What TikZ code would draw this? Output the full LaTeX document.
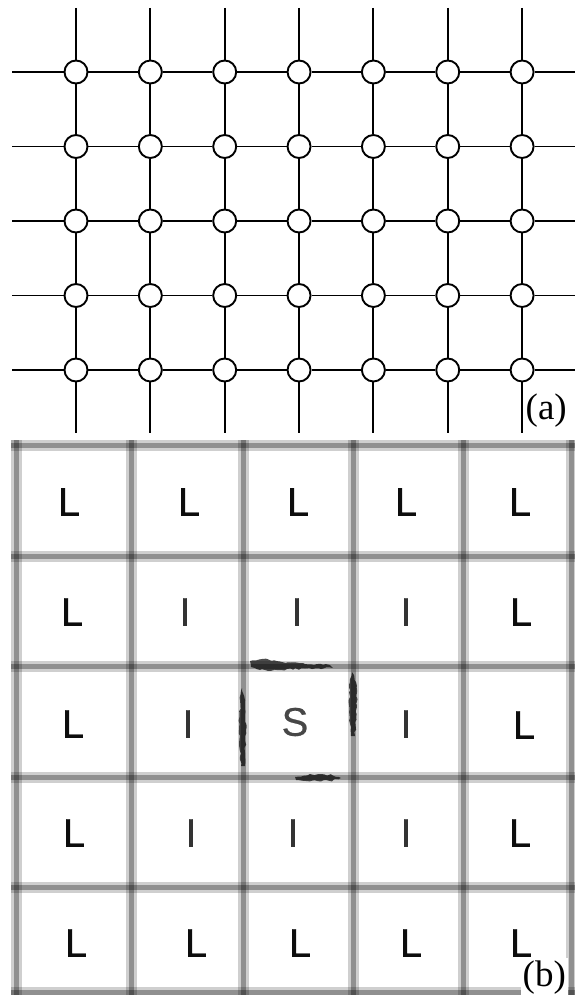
\documentclass[tikz,border=0pt]{standalone}
\usepackage{fontspec}
\usetikzlibrary{decorations.pathmorphing}
\setmainfont{Liberation Serif}
\newfontfamily\cellfont[FakeBold=0.6]{Liberation Sans}
\begin{document}
\begin{tikzpicture}[x=1pt,y=-1pt,
  site/.style={circle,draw=black,fill=white,line width=1.9pt,minimum size=23pt,inner sep=0pt},
  bond/.style={line width=1.9pt,black},
  bandouter/.style={line width=11pt,black,draw opacity=0.19},
  bandcore/.style={line width=5pt,black,draw opacity=0.3},
  cellL/.style={inner sep=0pt,font=\cellfont\fontsize{40}{40}\selectfont,text=black!95},
  cellI/.style={inner sep=0pt,font=\cellfont\fontsize{40}{40}\selectfont,text=black!80},
  cellS/.style={inner sep=0pt,font=\cellfont\fontsize{40}{40}\selectfont,text=black!72},
  smudge/.style={fill=black,fill opacity=0.7,draw=none,decorate,
    decoration={random steps,segment length=3pt,amplitude=0.9pt}},
  tag/.style={inner sep=2pt,fill=white,font=\fontsize{37}{37}\selectfont,anchor=base west}]
\useasboundingbox (0,0) rectangle (575,995);
\pgfmathsetseed{7}

% ---------- (a) square lattice of sites ----------
\foreach \i in {1,...,5} {
  \foreach \j in {1,...,7} {
    \pgfmathsetmacro{\px}{76+74.35*(\j-1)}
    \pgfmathsetmacro{\py}{72+74.5*(\i-1)}
    \node[site] (n-\i-\j) at (\px,\py) {};
  }
}
% free ends of the bonds
\foreach \i in {1,...,5} {
  \pgfmathsetmacro{\py}{72+74.5*(\i-1)}
  \coordinate (w-\i) at (12,\py);
  \coordinate (e-\i) at (575,\py);
}
\foreach \j in {1,...,7} {
  \pgfmathsetmacro{\px}{76+74.35*(\j-1)}
  \coordinate (t-\j) at (\px,8);
  \coordinate (b-\j) at (\px,433);
}
% horizontal bonds
\foreach \i in {1,...,5} {
  \draw[bond] (w-\i) -- (n-\i-1);
  \draw[bond] (n-\i-7) -- (e-\i);
  \foreach \j [count=\k from 2] in {1,...,6} {
    \draw[bond] (n-\i-\j) -- (n-\i-\k);
  }
}
% vertical bonds
\foreach \j in {1,...,7} {
  \draw[bond] (t-\j) -- (n-1-\j);
  \draw[bond] (n-5-\j) -- (b-\j);
  \foreach \i [count=\k from 2] in {1,...,4} {
    \draw[bond] (n-\i-\j) -- (n-\k-\j);
  }
}
\node[tag] (lab-a) at (523.5,419) {(a)};

% ---------- (b) 5x5 cell grid ----------
\foreach \gx in {16,131,243,353,463,571} {
  \draw[bandouter] (\gx,440) -- (\gx,995);
  \draw[bandcore] (\gx,440) -- (\gx,995);
}
\foreach \gy in {445,556,666,777,887,992} {
  \draw[bandouter] (11,\gy) -- (575,\gy);
  \draw[bandcore] (11,\gy) -- (575,\gy);
}

% dark marks round the centre cell
\fill[smudge] (250,661) -- (262,659) -- (282,662) -- (305,664) -- (330,665) -- (333,668)
  -- (305,668.5) -- (280,670) -- (260,670) -- (251,667) -- cycle;
\fill[smudge] (242,688) -- (245,700) -- (246,730) -- (245,766) -- (241,766)
  -- (239,730) -- (240,700) -- cycle;
\fill[smudge] (352,672) -- (356,682) -- (357,705) -- (355,736) -- (351,736)
  -- (349,705) -- (350,682) -- cycle;
\fill[smudge] (295,777) -- (312,774.5) -- (332,775) -- (341,778) -- (330,781)
  -- (306,781) -- (296,780) -- cycle;

% cell letters
\node[cellL] (c-1-1) at (69,502) {L};
\node[cellL] (c-1-2) at (189,502) {L};
\node[cellL] (c-1-3) at (298,502) {L};
\node[cellL] (c-1-4) at (406,502) {L};
\node[cellL] (c-1-5) at (520,502) {L};

\node[cellL] (c-2-1) at (72,612) {L};
\node[cellI] (c-2-2) at (185,612) {I};
\node[cellI] (c-2-3) at (297,612) {I};
\node[cellI] (c-2-4) at (406,612) {I};
\node[cellL] (c-2-5) at (521,612) {L};

\node[cellL] (c-3-1) at (73,724) {L};
\node[cellI] (c-3-2) at (188,724) {I};
\node[cellS] (c-3-3) at (295,722) {S};
\node[cellI] (c-3-4) at (406,724) {I};
\node[cellL] (c-3-5) at (524,725) {L};

\node[cellL] (c-4-1) at (74,833) {L};
\node[cellI] (c-4-2) at (191,833) {I};
\node[cellI] (c-4-3) at (293,833) {I};
\node[cellI] (c-4-4) at (406,833) {I};
\node[cellL] (c-4-5) at (520,833) {L};

\node[cellL] (c-5-1) at (76,943) {L};
\node[cellL] (c-5-2) at (196,943) {L};
\node[cellL] (c-5-3) at (300,943) {L};
\node[cellL] (c-5-4) at (411,943) {L};
\node[cellL] (c-5-5) at (521,943) {L};

\node[tag] (lab-b) at (520.5,986) {(b)};
\end{tikzpicture}
\end{document}
